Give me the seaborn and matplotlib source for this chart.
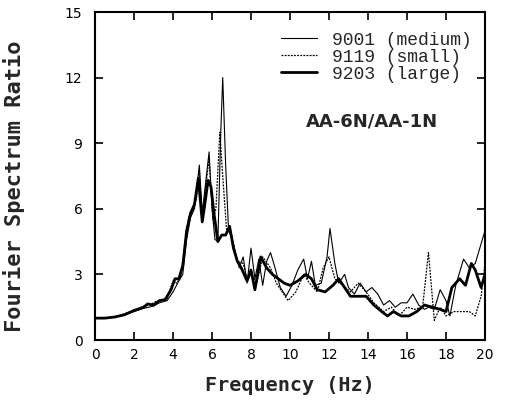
import matplotlib
matplotlib.use("Agg")
import matplotlib.pyplot as plt
import seaborn as sns

# ---- data ----
F_MED = [0, 0.5, 1, 1.5, 2, 2.5, 3, 3.3, 3.7, 4.0, 4.3, 4.5, 4.7, 4.9, 5.1, 5.35, 5.5, 5.65, 5.85, 6.0,
         6.15, 6.3, 6.45, 6.55, 6.7, 6.85, 7.0, 7.2, 7.4, 7.6, 7.8, 8.0, 8.2, 8.4, 8.6, 8.8, 9.0, 9.2, 9.5, 9.8,
         10.1, 10.4, 10.7, 10.9, 11.1, 11.3, 11.6, 11.9, 12.05, 12.3, 12.5, 12.8, 13.0, 13.3, 13.6, 13.9, 14.2,
         14.5, 14.8, 15.1, 15.4, 15.7, 16.0, 16.3, 16.6, 16.9, 17.1, 17.4, 17.7, 18.0, 18.2, 18.5, 18.9, 19.2,
         19.5, 19.8, 20.0]
V_MED = [1.0, 1.0, 1.05, 1.15, 1.3, 1.45, 1.55, 1.7, 1.8, 2.2, 2.7, 3.0, 4.6, 5.6, 6.0, 8.0, 5.8, 7.0, 8.6, 6.0,
         4.6, 4.5, 9.5, 12.0, 8.0, 5.0, 4.8, 4.0, 3.3, 3.8, 2.6, 4.2, 2.8, 3.7, 2.5, 3.6, 4.0, 3.4, 2.4, 2.0,
         2.5, 3.2, 3.7, 2.8, 3.6, 2.5, 2.6, 3.8, 5.1, 3.5, 2.6, 3.0, 2.4, 2.1, 2.6, 2.2, 2.4,
         2.1, 1.6, 1.8, 1.5, 1.7, 1.7, 2.1, 1.6, 1.4, 1.5, 1.4, 2.3, 1.8, 1.1, 2.5, 3.7, 3.3,
         3.5, 4.4, 5.0]

F_SMALL = [0, 0.5, 1, 1.5, 2, 2.5, 2.8, 3.1, 3.4, 3.7, 4.0, 4.2, 4.4, 4.6, 4.8, 5.0, 5.2, 5.35, 5.5, 5.65,
           5.85, 6.05, 6.2, 6.4, 6.55, 6.75, 7.0, 7.3, 7.6, 7.8, 8.0, 8.3, 8.6, 9.0, 9.3, 9.6, 9.9, 10.3, 10.7,
           11.0, 11.4, 11.7, 12.0, 12.3, 12.7, 13.1, 13.5, 13.9, 14.3, 14.8, 15.2, 15.6, 16.0, 16.4, 16.8,
           17.1, 17.4, 17.7, 18.0, 18.4, 18.8, 19.2, 19.5, 19.8, 20.0]
V_SMALL = [1.0, 1.0, 1.05, 1.2, 1.35, 1.55, 1.6, 1.75, 1.8, 1.9, 2.7, 2.6, 2.9, 4.2, 5.6, 6.0, 6.4, 7.8, 5.6, 6.8,
           8.3, 5.5, 6.0, 9.5, 7.5, 5.0, 4.8, 3.6, 3.5, 2.8, 3.0, 2.6, 3.8, 3.3, 2.6, 2.2, 1.8, 2.2, 3.0,
           2.6, 2.2, 3.3, 3.8, 2.8, 2.5, 2.2, 2.6, 2.2, 1.7, 1.3, 1.5, 1.1, 1.5, 1.4, 1.5,
           4.0, 0.9, 1.5, 1.1, 1.3, 1.3, 1.3, 1.1, 2.0, 3.5]

F_LARGE = [0, 0.5, 1, 1.5, 2, 2.5, 2.7, 3, 3.3, 3.6, 3.9, 4.1, 4.3, 4.5, 4.7, 4.9, 5.1, 5.3, 5.5, 5.6,
           5.8, 5.95, 6.1, 6.3, 6.5, 6.7, 6.9, 7.1, 7.3, 7.5, 7.8, 8.0, 8.2, 8.5, 8.8, 9.1, 9.4, 9.7, 10.0,
           10.4, 10.8, 11.1, 11.4, 11.8, 12.2, 12.5, 12.8, 13.1, 13.5, 13.9, 14.3, 14.7, 15.0, 15.3, 15.7,
           16.1, 16.5, 16.9, 17.3, 17.7, 18.0, 18.3, 18.7, 19.0, 19.3, 19.5, 19.8, 20.0]
V_LARGE = [1.0, 1.0, 1.05, 1.15, 1.35, 1.5, 1.65, 1.6, 1.8, 1.85, 2.3, 2.8, 2.8, 3.4, 5.0, 5.8, 6.2, 7.4, 5.4, 6.0,
           7.3, 7.0, 5.8, 4.5, 4.8, 4.8, 5.2, 4.2, 3.6, 3.3, 2.7, 3.2, 2.3, 3.8, 3.3, 3.0, 2.8, 2.6, 2.5,
           2.7, 3.0, 2.8, 2.3, 2.2, 2.5, 2.8, 2.4, 2.0, 2.0, 2.0, 1.6, 1.3, 1.1, 1.3, 1.1,
           1.1, 1.3, 1.6, 1.5, 1.4, 1.3, 2.4, 2.8, 2.5, 3.5, 3.2, 2.4, 3.0]

LABELS = ["9001 (medium)", "9119 (small)", "9203 (large)"]
X_TICKS = list(range(0, 21, 2))
Y_TICKS = [0, 3, 6, 9, 12, 15]
TITLE_TEXT = "AA-6N/AA-1N"
X_LABEL = "Frequency (Hz)"
Y_LABEL = "Fourier Spectrum Ratio"

sns.set_style("ticks")
plt.rcParams["font.family"] = ["DejaVu Sans"]

fig = plt.figure(figsize=(5.05, 4.0), dpi=100)
ax = fig.add_axes([95 / 505, 60 / 400, 390 / 505, 328 / 400])

sns.lineplot(x=F_MED, y=V_MED, ax=ax, color="black", lw=0.8, sort=False,
             estimator=None, label=LABELS[0])
sns.lineplot(x=F_SMALL, y=V_SMALL, ax=ax, color="black", lw=0.9, sort=False,
             estimator=None, label=LABELS[1], linestyle=(0, (1.5, 1)))
sns.lineplot(x=F_LARGE, y=V_LARGE, ax=ax, color="black", lw=2.0, sort=False,
             estimator=None, label=LABELS[2])

ax.set_xlim(0, 20)
ax.set_ylim(0, 15)
ax.set_xticks(X_TICKS)
ax.set_yticks(Y_TICKS)
ax.tick_params(direction="in", length=6, width=1.2, top=True, right=True,
               labelsize=10, colors="black")
ax.tick_params(axis="y", pad=9)
ax.tick_params(axis="x", pad=6)
for s in ax.spines.values():
    s.set_linewidth(1.5)
    s.set_color("black")

ax.set_xlabel(X_LABEL, family="DejaVu Sans Mono", fontsize=14.5, fontweight="bold", labelpad=10)
ax.set_ylabel(Y_LABEL, family="DejaVu Sans Mono", fontsize=15.8, fontweight="bold")
ax.yaxis.set_label_coords(-0.18, 0.47)

leg = ax.legend(loc="upper right", bbox_to_anchor=(0.965, 0.94), frameon=False,
                prop=dict(family="Liberation Mono", size=13), borderpad=0, borderaxespad=0,
                handlelength=2.0, handletextpad=0.8, labelspacing=0.0)

ax.text(0.71, 0.665, TITLE_TEXT, transform=ax.transAxes, ha="center", va="center",
        fontsize=13, fontweight="bold", family="DejaVu Sans")

fig.savefig("out.png", dpi=100, facecolor="white")
